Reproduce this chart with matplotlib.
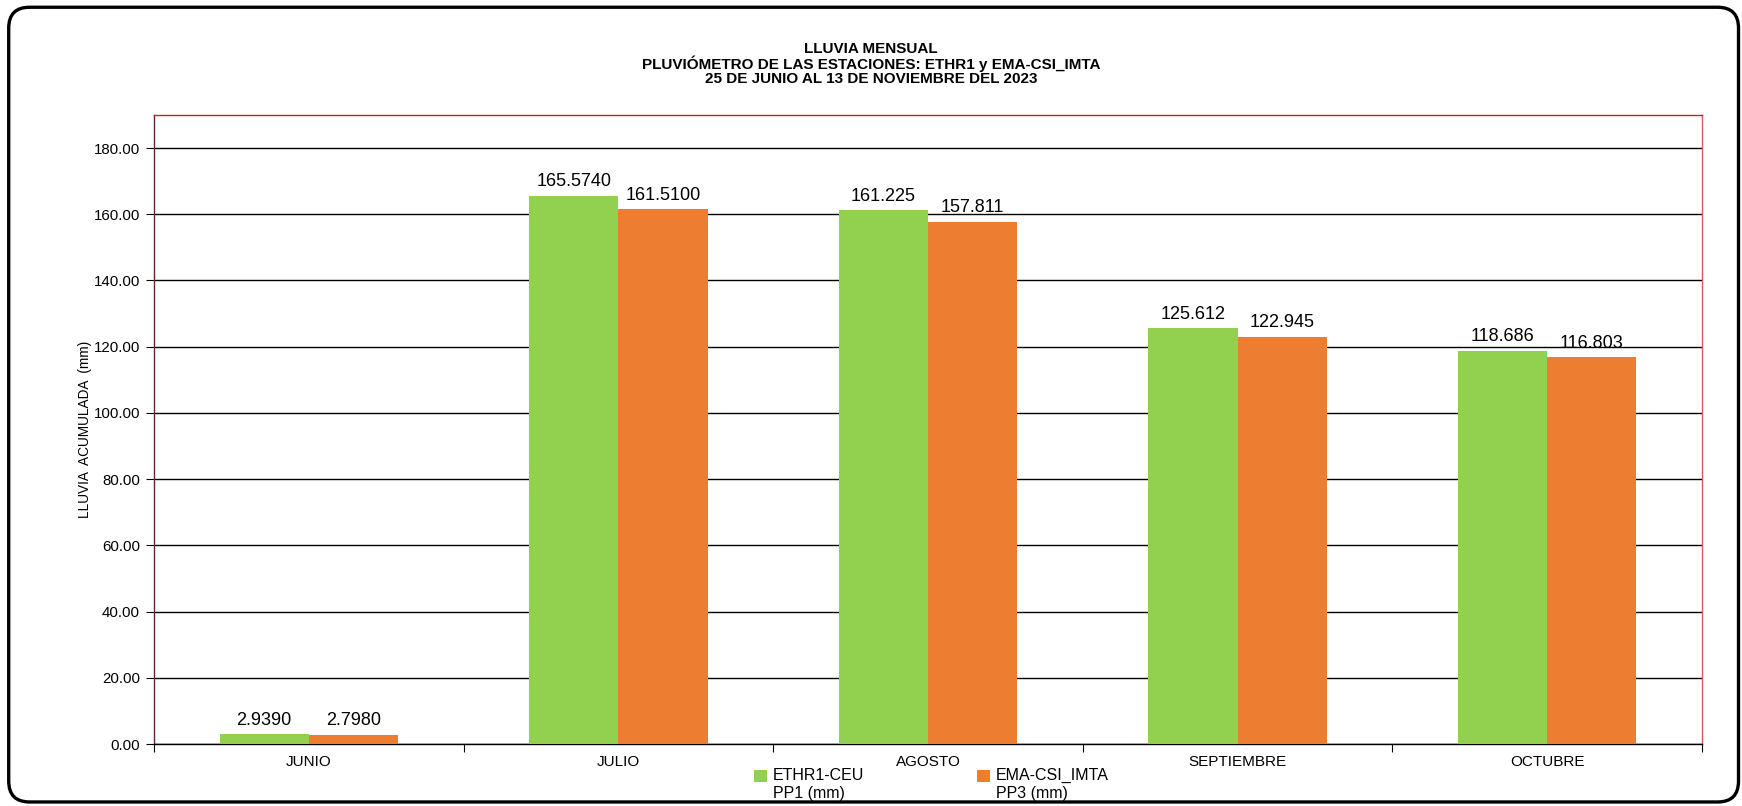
import matplotlib.pyplot as plt
import numpy as np
from matplotlib.patches import FancyBboxPatch

plt.rcParams['font.family'] = ['Liberation Sans', 'DejaVu Sans']

# ---- data ----
meses = ['JUNIO', 'JULIO', 'AGOSTO', 'SEPTIEMBRE', 'OCTUBRE']
ethr1 = [2.9390, 165.5740, 161.225, 125.612, 118.686]
ema = [2.7980, 161.5100, 157.811, 122.945, 116.803]
ethr1_txt = ['2.9390', '165.5740', '161.225', '125.612', '118.686']
ema_txt = ['2.7980', '161.5100', '157.811', '122.945', '116.803']
series_names = ['ETHR1-CEU\nPP1 (mm)', 'EMA-CSI_IMTA\nPP3 (mm)']
yticks = np.arange(0, 181, 20)

GREEN = '#92D050'
ORANGE = '#ED7D31'

fig = plt.figure(figsize=(17.42, 8.06), dpi=100)
ax = fig.add_axes([0.0884, 0.0769, 0.8886, 0.7805])

# rounded outer frame
frame = FancyBboxPatch((0.005, 0.005), 0.993, 0.986, boxstyle='round,pad=0,rounding_size=0.012',
                       transform=fig.transFigure, fill=False, edgecolor='black', lw=2.4,
                       mutation_aspect=1742 / 806)
fig.patches.append(frame)

x = np.arange(len(meses))
w = 0.288
b1 = ax.bar(x - w / 2, ethr1, w, color=GREEN, label=series_names[0], zorder=3)
b2 = ax.bar(x + w / 2, ema, w, color=ORANGE, label=series_names[1], zorder=3)

for bars, txts in [(b1, ethr1_txt), (b2, ema_txt)]:
    for r, t in zip(bars, txts):
        ax.annotate(t, (r.get_x() + r.get_width() / 2, r.get_height()),
                    xytext=(0, 4), textcoords='offset points',
                    ha='center', va='bottom', fontsize=13)

ax.set_xlim(-0.5, len(meses) - 0.5)
ax.set_ylim(0, 190)
ax.set_yticks(yticks)
ax.set_yticklabels([f'{v:.2f}' for v in yticks], fontsize=10.8)
ax.yaxis.grid(True, color='black', lw=1, zorder=0)

# excel-like category ticks at boundaries, labels at centers
ax.set_xticks(np.arange(-0.5, len(meses), 1.0))
ax.set_xticklabels([])
ax.set_xticks(x, minor=True)
ax.set_xticklabels(meses, minor=True, fontsize=11)
ax.tick_params(axis='x', which='minor', length=0, pad=8)
ax.tick_params(axis='x', which='major', length=6, direction='out')
ax.tick_params(axis='y', length=6, direction='out', pad=4)

ax.spines['top'].set_color('#C8202A')
ax.spines['right'].set_color('#D9575C')
ax.spines['left'].set_color('#5a2a2a')
ax.spines['bottom'].set_color('black')
for s in ax.spines.values():
    s.set_linewidth(1)

ax.set_ylabel('LLUVIA  ACUMULADA  (mm)', fontsize=9.8, labelpad=1)

fig.text(0.5, 0.948, 'LLUVIA MENSUAL\nPLUVIÓMETRO DE LAS ESTACIONES: ETHR1 y EMA-CSI_IMTA\n'
         '25 DE JUNIO AL 13 DE NOVIEMBRE DEL 2023',
         ha='center', va='top', fontsize=11, fontweight='bold', linespacing=0.98)

leg = fig.legend(handles=[b1, b2], loc='upper left', bbox_to_anchor=(0.433, 0.047), ncol=2,
                 frameon=False, fontsize=11.5, handlelength=0.8, handleheight=0.8,
                 handletextpad=0.35, columnspacing=7.1, borderpad=0, borderaxespad=0,
                 labelspacing=0)
# excel puts the key square next to the first text line
for h in leg.legend_handles:
    h.set_y(h.get_y() + 6.5)

fig.savefig('out.png', dpi=100)
